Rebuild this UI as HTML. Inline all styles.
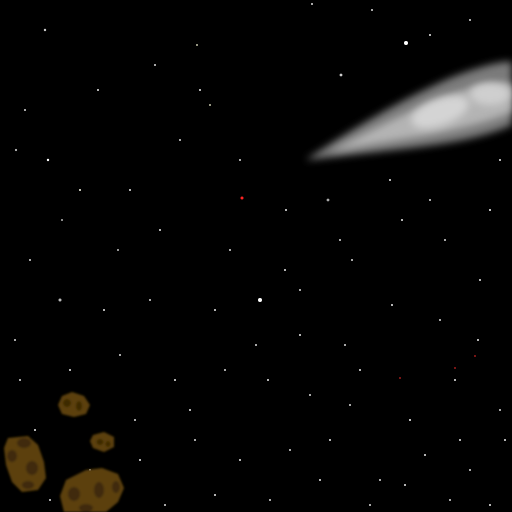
<!DOCTYPE html>
<html><head><meta charset="utf-8"><style>html,body{margin:0;padding:0;background:#000;overflow:hidden}svg{display:block}</style></head>
<body>
<svg width="512" height="512" viewBox="0 0 512 512">
<defs>
<filter id="b4" x="-20%" y="-50%" width="140%" height="200%"><feGaussianBlur stdDeviation="4"/></filter>
<filter id="b1"><feGaussianBlur stdDeviation="1"/></filter>
</defs>
<rect width="512" height="512" fill="#000"/>
<g>
<path d="M306,160 C350,130 400,100 450,78 C480,66 505,60 512,62 L512,125 C490,135 460,142 420,147 C380,152 340,156 306,160 Z" fill="#7a7a7a" filter="url(#b4)"/>
<path d="M330,152 C380,125 430,100 470,88 C495,82 510,82 512,85 L512,112 C490,122 450,132 410,138 C380,143 350,148 330,152 Z" fill="#b4b4b4" filter="url(#b4)"/>
<ellipse cx="440" cy="112" rx="30" ry="13" transform="rotate(-20 440 112)" fill="#d4d4d4" filter="url(#b4)"/>
<ellipse cx="490" cy="94" rx="20" ry="11" fill="#cfcfcf" filter="url(#b4)"/>
</g>
<g id="stars"></g>
<g filter="url(#b1)">
<g><path d="M62,396 L72,392 L84,396 L90,405 L86,414 L74,417 L62,414 L58,405 Z" fill="#5c400a"/><ellipse cx="67" cy="403" rx="4" ry="4" fill="#3e2a06"/><ellipse cx="79" cy="406" rx="3" ry="5" fill="#3e2a06"/></g>
<g><path d="M93,435 L104,432 L114,437 L114,447 L104,452 L93,448 L90,441 Z" fill="#5c400a"/><ellipse cx="100" cy="442" rx="3.5" ry="3" fill="#3e2a06"/><ellipse cx="108" cy="444" rx="2.5" ry="3" fill="#3e2a06"/></g>
<g><path d="M8,438 L28,436 L38,445 L44,462 L46,478 L38,490 L22,492 L12,482 L6,465 L4,448 Z" fill="#5c400a"/><ellipse cx="24" cy="443" rx="7" ry="5" fill="#402c07"/><ellipse cx="12" cy="456" rx="5" ry="6" fill="#402c07"/><ellipse cx="32" cy="468" rx="6" ry="7" fill="#402c07"/><ellipse cx="28" cy="485" rx="6" ry="4" fill="#402c07"/></g>
<g><path d="M66,480 L86,470 L102,468 L118,474 L124,488 L118,502 L106,512 L64,512 L60,496 Z" fill="#5c400a"/><ellipse cx="74" cy="494" rx="6" ry="7" fill="#402c07"/><ellipse cx="99" cy="490" rx="5" ry="8" fill="#402c07"/><ellipse cx="116" cy="487" rx="4" ry="6" fill="#402c07"/><ellipse cx="86" cy="508" rx="7" ry="4" fill="#402c07"/></g>
</g>
</svg>
<script>
const starX=[45,406,312,341,16,48,98,180,210,118,155,197,62,260,300,328,372,430,470,500,25,80,130,240,286,352,402,445,490,60,104,150,215,256,300,345,392,440,478,20,70,120,175,225,268,310,360,410,455,500,35,90,140,195,240,290,330,380,425,470,505,50,110,165,215,270,320,370,405,450,490,30,160,230,285,340,390,430,480,242,400,455,475,135,190,350,460,15,200];
const starY=[30,43,4,75,150,160,90,140,105,250,65,45,220,300,290,200,10,35,20,160,110,190,190,160,210,260,220,240,210,300,310,300,310,345,335,345,305,320,340,380,370,355,380,370,380,395,370,420,380,410,430,470,460,440,460,450,440,480,455,470,440,500,490,505,495,500,480,505,485,500,505,260,230,250,270,240,180,200,280,198,378,368,356,420,410,405,440,340,90];
const starR=[1.2,2,1,1.4,1.1,1.2,1,1,0.9,0.9,1,0.9,0.9,2,1,1.4,1,1,1,1,1,1,1,1,1,1,1,1,1,1.5,1,1,1,1,1,1,1,1,1,1,1,1,1,1,1,1,1,1,1,1,1,1,1,1,1,1,1,1,1,1,1,1,1,1,1,1,1,1,1,1,1,1,1,1,1,1,1,1,1,1.5,0.9,0.9,0.9,1,1,1,1,1,1];
const starC=['#ccc','#fff','#ddd','#ccc','#bbb','#fff','#eee','#ddd','#ffd','#fff','#ddd','#ffd','#eee','#fff','#ddd','#aaa','#ddd','#eee','#ddd','#eee','#ddd','#ffe','#eee','#ddd','#eee','#ddd','#eee','#ddd','#fff','#bbb','#eee','#ddd','#eee','#ddd','#eee','#ddd','#eee','#ddd','#eee','#ddd','#eee','#ddd','#eee','#ddd','#eee','#ddd','#eee','#fff','#eee','#ddd','#eee','#ddd','#eee','#ddd','#eee','#ddd','#eee','#ddd','#eee','#ddd','#eee','#ddd','#eee','#ddd','#eee','#ddd','#eee','#ddd','#eee','#ddd','#eee','#ddd','#eee','#ddd','#eee','#ddd','#eee','#ddd','#eee','#f22','#c22','#c22','#c22','#ddd','#eee','#ddd','#eee','#ddd','#eee'];
const g=document.getElementById('stars');
for(let i=0;i<starX.length;i++){
  const c=document.createElementNS('http://www.w3.org/2000/svg','circle');
  
  
  c.setAttribute('cx',starX[i]);c.setAttribute('cy',starY[i]);
  c.setAttribute('r',starR[i]);c.setAttribute('fill',starC[i]);
  g.appendChild(c);
}
</script>
</body></html>
